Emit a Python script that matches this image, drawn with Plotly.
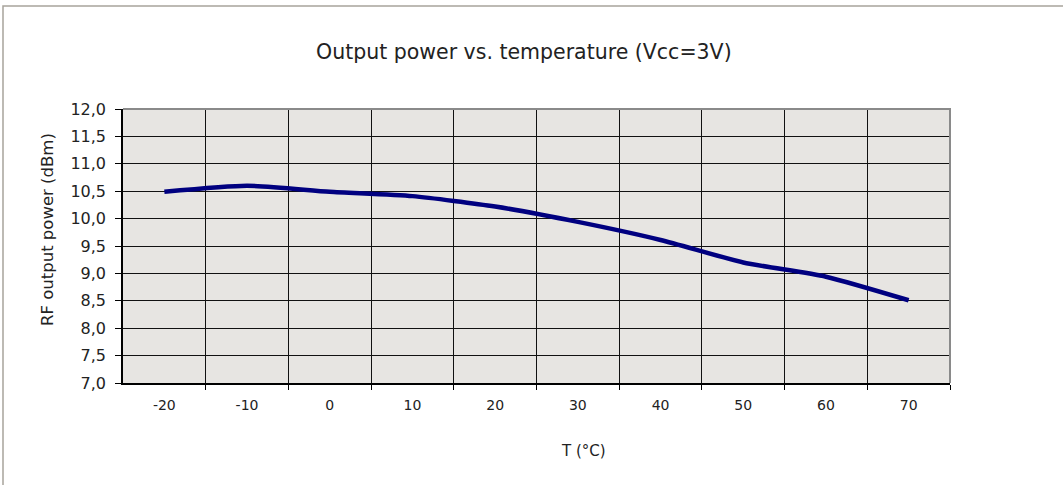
import plotly.graph_objects as go

temps = [-20, -10, 0, 10, 20, 30, 40, 50, 60, 70]
power = [10.49, 10.60, 10.49, 10.41, 10.22, 9.94, 9.61, 9.20, 8.94, 8.51]
y_ticks = [7.0, 7.5, 8.0, 8.5, 9.0, 9.5, 10.0, 10.5, 11.0, 11.5, 12.0]

W, H = 1063, 485
L, R, T, B = 123, 113, 109, 102
PW, PH = W - L - R, H - T - B

def px(x):
    return (x - L) / PW

def py(y):
    return (H - B - y) / PH

step = temps[1] - temps[0]
bounds = [t + step / 2 for t in temps[:-1]]

fig = go.Figure()
fig.add_trace(go.Scatter(
    x=temps, y=power, mode="lines",
    line=dict(color="#000080", width=4.5, shape="spline", smoothing=0.6),
    showlegend=False, hoverinfo="skip",
))

fig.update_layout(
    width=W, height=H,
    margin=dict(l=L, r=R, t=T, b=B),
    paper_bgcolor="white",
    plot_bgcolor="#e7e5e2",
    separators=",.",
    xaxis=dict(
        range=[temps[0] - step / 2, temps[-1] + step / 2],
        tickmode="array", tickvals=temps, ticktext=[str(t) for t in temps],
        ticks="", showgrid=False, zeroline=False,
        showline=True, linecolor="black", linewidth=1.5,
        tickfont=dict(family="DejaVu Sans", size=14, color="#222222"),
        ticklabelstandoff=8,
        minor=dict(tickmode="array", tickvals=bounds + [temps[-1] + step / 2],
                   ticks="outside", ticklen=5, tickcolor="black", tickwidth=1.2,
                   showgrid=True, gridcolor="#111111", gridwidth=1.2),
    ),
    yaxis=dict(
        range=[7, 12], tickmode="array", tickvals=y_ticks,
        tickformat=".1f", ticks="outside", ticklen=6, tickcolor="black", tickwidth=1.2,
        showgrid=True, gridcolor="#111111", gridwidth=1.2, zeroline=False,
        showline=True, linecolor="black", linewidth=1.5,
        tickfont=dict(family="DejaVu Sans", size=16, color="#222222"),
        ticklabelstandoff=6,
    ),
    shapes=[
        dict(type="path", xref="x domain", yref="y domain",
             path="M 0 1 L 1 1 L 1 0", line=dict(color="#8a8a8a", width=2)),
        dict(type="path", xref="paper", yref="paper",
             path=f"M {px(3)} {py(H + 20)} L {px(3)} {py(6)} L {px(W + 20)} {py(6)}",
             line=dict(color="#a8a49c", width=1.5)),
    ],
    annotations=[
        dict(text="Output power vs. temperature (Vcc=3V)", xref="paper", yref="paper",
             x=px(524), y=py(52), xanchor="center", yanchor="middle", showarrow=False,
             font=dict(family="DejaVu Sans", size=20.5, color="#222222")),
        dict(text="RF output power (dBm)", xref="paper", yref="paper",
             x=px(47), y=py(230), xanchor="center", yanchor="middle", showarrow=False,
             textangle=-90,
             font=dict(family="DejaVu Sans", size=16.5, color="#222222")),
        dict(text="T (°C)", xref="paper", yref="paper",
             x=px(583), y=py(451), xanchor="center", yanchor="middle", showarrow=False,
             font=dict(family="DejaVu Sans", size=15, color="#222222")),
    ],
)

fig.write_html("out.html", config={"displayModeBar": False},
               post_script="document.body.style.margin='0';")
